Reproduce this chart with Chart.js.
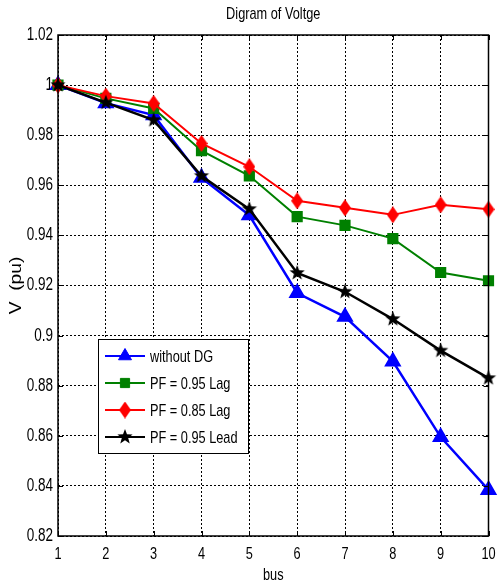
<!DOCTYPE html>
<html>
<head>
<meta charset="utf-8">
<script src="https://cdn.jsdelivr.net/npm/chart.js@4.4.1/dist/chart.umd.min.js"></script>
<style>
  html, body { margin: 0; padding: 0; background: #fff; }
  #wrap { width: 499px; height: 586px; position: relative; }
</style>
</head>
<body>
<div id="wrap"><canvas id="voltChart"></canvas></div>
<script>
// bus numbers and voltage profile (pu) for each case
const buses = [1, 2, 3, 4, 5, 6, 7, 8, 9, 10];
const withoutDG = [1.000, 0.9928, 0.9880, 0.9630, 0.9480, 0.9170, 0.9075, 0.8897, 0.8595, 0.8384];
const pf095Lag  = [1.000, 0.9947, 0.9907, 0.9738, 0.9638, 0.9475, 0.9440, 0.9387, 0.9252, 0.9219];
const pf085Lag  = [1.000, 0.9956, 0.9927, 0.9767, 0.9674, 0.9538, 0.9510, 0.9482, 0.9522, 0.9504];
const pf095Lead = [1.000, 0.9930, 0.9860, 0.9637, 0.9505, 0.9250, 0.9175, 0.9066, 0.8940, 0.8830];
const yTicks = [0.82, 0.84, 0.86, 0.88, 0.9, 0.92, 0.94, 0.96, 0.98, 1, 1.02];
const xTicks = buses;

const FONT = "'Liberation Sans', Arial, Helvetica, sans-serif";
const SX = 0.75;     // horizontal text is squeezed (tall, narrow look)
const SX_ROT = 1.2;  // rotated y title is stretched along its length

// filled markers that Chart.js does not have
function makeStar(r) {
  const c = document.createElement('canvas');
  c.width = c.height = Math.ceil(r * 2 + 2);
  const g = c.getContext('2d');
  const cx = c.width / 2, cy = c.height / 2;
  g.beginPath();
  for (let i = 0; i < 10; i++) {
    const rad = i % 2 === 0 ? r : r * 0.42;
    const a = -Math.PI / 2 + i * Math.PI / 5;
    const px = cx + Math.cos(a) * rad, py = cy + Math.sin(a) * rad;
    i === 0 ? g.moveTo(px, py) : g.lineTo(px, py);
  }
  g.closePath();
  g.fillStyle = '#000';
  g.fill();
  return c;
}
function makeDiamond(w, h, color) {
  const c = document.createElement('canvas');
  c.width = w; c.height = h;
  const g = c.getContext('2d');
  g.beginPath();
  g.moveTo(w / 2, 0); g.lineTo(w, h / 2); g.lineTo(w / 2, h); g.lineTo(0, h / 2);
  g.closePath();
  g.fillStyle = color;
  g.fill();
  return c;
}
const starImg = makeStar(8);
const diamondImg = makeDiamond(12, 17, '#ff0000');

// box around the plot with inward tick marks, matlab style
const framePlugin = {
  id: 'frame',
  afterDatasetsDraw(chart) {
    const { ctx, chartArea: a, scales } = chart;
    ctx.save();
    ctx.strokeStyle = '#000';
    ctx.lineWidth = 1;
    ctx.beginPath();
    const tl = 5;
    yTicks.forEach(v => {
      const y = Math.round(scales.y.getPixelForValue(v)) + 0.5;
      ctx.moveTo(a.left, y); ctx.lineTo(a.left + tl, y);
      ctx.moveTo(a.right, y); ctx.lineTo(a.right - tl, y);
    });
    xTicks.forEach(v => {
      const x = Math.round(scales.x.getPixelForValue(v)) + 0.5;
      ctx.moveTo(x, a.bottom); ctx.lineTo(x, a.bottom - tl);
      ctx.moveTo(x, a.top); ctx.lineTo(x, a.top + tl);
    });
    ctx.stroke();
    ctx.lineWidth = 1.5;
    ctx.strokeRect(a.left, a.top, a.right - a.left, a.bottom - a.top);
    ctx.restore();
  }
};

// legend box sitting inside the lower-left part of the axes
const legendPlugin = {
  id: 'boxLegend',
  afterDraw(chart) {
    const { ctx, chartArea: a } = chart;
    const x0 = a.left + 40, y0 = a.top + 304, w = 150, h = 114;
    ctx.save();
    ctx.fillStyle = '#fff';
    ctx.fillRect(x0, y0, w, h);
    ctx.strokeStyle = '#000';
    ctx.lineWidth = 1;
    ctx.strokeRect(x0 + 0.5, y0 + 0.5, w, h);
    ctx.font = '17px ' + FONT;
    ctx.textBaseline = 'middle';
    ctx.textAlign = 'left';
    chart.data.datasets.forEach((ds, i) => {
      const y = y0 + 17 + i * 27;
      ctx.strokeStyle = ds.borderColor;
      ctx.fillStyle = ds.backgroundColor;
      ctx.lineWidth = 2;
      ctx.beginPath();
      ctx.moveTo(x0 + 7, y); ctx.lineTo(x0 + 47, y);
      ctx.stroke();
      ctx.lineWidth = 1;
      Chart.helpers.drawPoint(ctx, {
        pointStyle: ds.pointStyle, radius: ds.pointRadius, rotation: 0, borderWidth: 1
      }, x0 + 27, y);
      ctx.fillStyle = '#000';
      ctx.fillText(ds.label, x0 + 52, y + 1);
    });
    ctx.restore();
  }
};

const canvas = document.getElementById('voltChart');
const ctx = canvas.getContext('2d');

// scale text along its baseline; measureText reports the scaled width so layout stays right
const origFill = CanvasRenderingContext2D.prototype.fillText;
const origMeasure = CanvasRenderingContext2D.prototype.measureText;
function textScale(c) {
  const t = c.getTransform();
  return Math.abs(t.b) > 0.5 ? SX_ROT : SX;
}
ctx.fillText = function (t, x, y, mw) {
  const s = textScale(this);
  this.save();
  this.translate(x, y);
  this.scale(s, 1);
  if (mw === undefined) origFill.call(this, t, 0, 0);
  else origFill.call(this, t, 0, 0, mw / s);
  this.restore();
};
ctx.measureText = function (t) {
  const m = origMeasure.call(this, t);
  return {
    width: m.width * SX,
    actualBoundingBoxAscent: m.actualBoundingBoxAscent,
    actualBoundingBoxDescent: m.actualBoundingBoxDescent,
    actualBoundingBoxLeft: m.actualBoundingBoxLeft * SX,
    actualBoundingBoxRight: m.actualBoundingBoxRight * SX
  };
};

new Chart(ctx, {
  type: 'line',
  data: {
    datasets: [
      {
        label: 'without DG',
        data: buses.map((b, i) => ({ x: b, y: withoutDG[i] })),
        borderColor: '#0000ff', backgroundColor: '#0000ff',
        borderWidth: 2.5, pointStyle: 'triangle', pointRadius: 7.5,
        order: 3, clip: false
      },
      {
        label: 'PF = 0.95 Lag',
        data: buses.map((b, i) => ({ x: b, y: pf095Lag[i] })),
        borderColor: '#008000', backgroundColor: '#008000',
        borderWidth: 2, pointStyle: 'rect', pointRadius: 6.5,
        order: 2, clip: false
      },
      {
        label: 'PF = 0.85 Lag',
        data: buses.map((b, i) => ({ x: b, y: pf085Lag[i] })),
        borderColor: '#ff0000', backgroundColor: '#ff0000',
        borderWidth: 2, pointStyle: diamondImg, pointRadius: 8,
        order: 1, clip: false
      },
      {
        label: 'PF = 0.95 Lead',
        data: buses.map((b, i) => ({ x: b, y: pf095Lead[i] })),
        borderColor: '#000000', backgroundColor: '#000000',
        borderWidth: 2.5, pointStyle: starImg, pointRadius: 8,
        order: 0, clip: false
      }
    ]
  },
  options: {
    responsive: true,
    maintainAspectRatio: false,
    animation: false,
    layout: { padding: { left: 0, right: 6, top: 0, bottom: 0 } },
    elements: { line: { tension: 0 }, point: { borderWidth: 1 } },
    plugins: {
      legend: { display: false },
      tooltip: { enabled: false },
      title: {
        display: true,
        fullSize: false, // centre over the plot, not the whole canvas
        text: 'Digram of Voltge',
        color: '#000',
        font: { family: FONT, size: 17, weight: 'normal', lineHeight: 1.2 },
        padding: { top: 4, bottom: 10.6 }
      }
    },
    scales: {
      x: {
        type: 'linear', min: 1, max: 10,
        afterBuildTicks: s => { s.ticks = xTicks.map(v => ({ value: v })); },
        afterFit: s => { s.height = 50; s.paddingLeft = 0; s.paddingRight = 0; },
        grid: { color: '#000', lineWidth: 1, drawTicks: false },
        border: { display: false, dash: [2, 2] },
        ticks: { color: '#000', padding: 8, maxRotation: 0, font: { family: FONT, size: 17 } },
        title: {
          display: true, text: 'bus', color: '#000',
          font: { family: FONT, size: 17 }, padding: { top: 0, bottom: 0 }
        }
      },
      y: {
        type: 'linear', min: 0.82, max: 1.02,
        afterBuildTicks: s => { s.ticks = yTicks.map(v => ({ value: v })); },
        afterFit: s => { s.width = 58; },
        grid: { color: '#000', lineWidth: 1, drawTicks: false },
        border: { display: false, dash: [2, 2] },
        ticks: {
          color: '#000', padding: 5, font: { family: FONT, size: 18 },
          callback: v => String(Number(v.toFixed(2)))
        },
        title: {
          display: true, text: 'V  (pu)', color: '#000',
          font: { family: FONT, size: 16 }, padding: { top: 7, bottom: 0 }
        }
      }
    }
  },
  plugins: [framePlugin, legendPlugin]
});
</script>
</body>
</html>
